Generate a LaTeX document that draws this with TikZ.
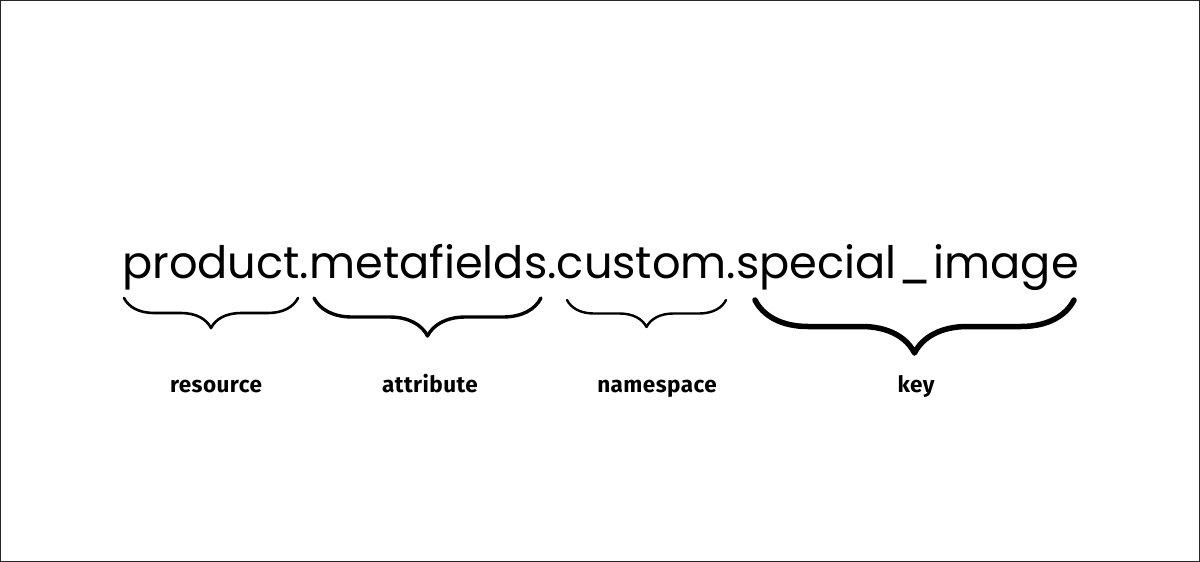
\documentclass[tikz,border=0pt]{standalone}
\usepackage{fontspec}
\setmainfont{Poppins}
\newfontfamily\labelfont[LetterSpace=2]{Fira Sans}
\usetikzlibrary{decorations.pathreplacing,positioning}

\begin{document}
\begin{tikzpicture}[
    x=1pt, y=-1pt,
    path/.style={font=\fontsize{44.7}{50}\selectfont, inner sep=0pt, anchor=base west},
    part/.style={decorate, decoration={brace, mirror, amplitude=#1}, line cap=round, line join=round},
    partlabel/.style={font=\labelfont\bfseries\fontsize{22.5}{24}\selectfont, inner sep=0pt, anchor=base}
  ]
    % frame
    \draw[line width=1.2pt, black!85, fill=white] (0.6,0.6) rectangle (1199.4,561.4);

    % the liquid path
    \node[path] (fullpath) at (122,278) {product.metafields.custom.special\kern2pt\_\kern2pt image};

    % braces
    \draw[part=30, line width=2.6pt] (124,298) -- (298,298);
    \draw[part=38, line width=3.4pt] (314,298) -- (541,298);
    \draw[part=27, line width=2.4pt] (567,300) -- (726,300);
    \draw[part=53, line width=5.5pt] (755,300) -- (1074,300);

    % labels
    \node[partlabel] (resource) at (216,392) {resource};
    \node[partlabel] (attribute) at (430,392) {attribute};
    \node[partlabel] (namespace) at (657,392) {namespace};
    \node[partlabel] (key) at (916,392) {key};
\end{tikzpicture}
\end{document}
